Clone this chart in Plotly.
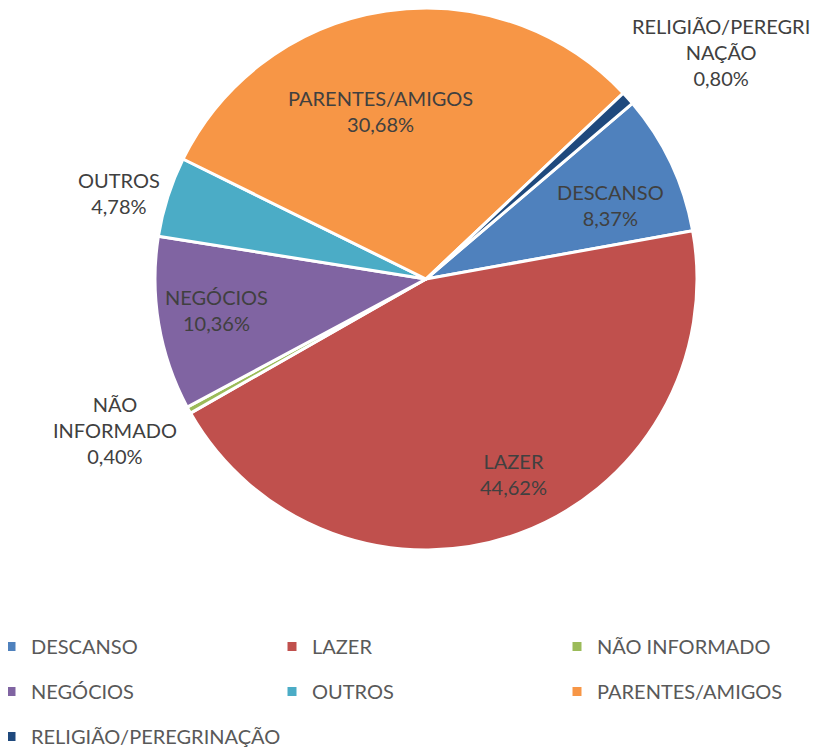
import math
import plotly.graph_objects as go

# ---- data ----
categories = ["DESCANSO", "LAZER", "NÃO INFORMADO", "NEGÓCIOS", "OUTROS",
              "PARENTES/AMIGOS", "RELIGIÃO/PEREGRINAÇÃO"]
slice_labels = ["DESCANSO", "LAZER", "NÃO<br>INFORMADO", "NEGÓCIOS", "OUTROS",
                "PARENTES/AMIGOS", "RELIGIÃO/PEREGRI<br>NAÇÃO"]
values = [8.37, 44.62, 0.40, 10.36, 4.78, 30.68, 0.80]

# ---- styles ----
colors = ["#4F81BD", "#C0504D", "#9BBB59", "#8064A2", "#4BACC6", "#F79646", "#1F497D"]
# data-label placement (Excel "best fit"): radius fraction and angular nudge (deg)
label_radius = [0.735, 0.79, 1.276, 0.783, 1.176, 0.643, 1.373]
label_nudge = [3.5, -4.3, 3.0, 1.2, -2.1, -6.8, 4.2]
legend_columns = [[0, 3, 6], [1, 4], [2, 5]]
legend_col_x = [-17, 264, 549]   # px within figure
LEGEND_TOP = 619                 # px within figure

# the page body adds an 8px margin, so the figure is 8px smaller than the window
W, H = 814, 741
CX, CY, R = 418, 271, 271
ROTATION = 49.6
FONT = "Lato, 'Open Sans', sans-serif"
FS = 20

fig = go.Figure()
fig.add_trace(go.Pie(
    labels=categories,
    values=values,
    textinfo="none",
    marker=dict(colors=colors, line=dict(color="white", width=3)),
    sort=False,
    direction="clockwise",
    rotation=ROTATION,
    domain=dict(x=[(CX - R) / W, (CX + R) / W], y=[1 - (CY + R) / H, 1 - (CY - R) / H]),
    showlegend=False,
    hovertemplate="%{label}: %{value:.2f}%<extra></extra>",
))

# data labels positioned from the slice angles
total = sum(values)
start = ROTATION
annotations = []
for i, v in enumerate(values):
    span = 360.0 * v / total
    mid = start + span / 2 + label_nudge[i]
    start += span
    a = math.radians(mid)
    px = CX + R * label_radius[i] * math.sin(a)
    py = CY - R * label_radius[i] * math.cos(a)
    annotations.append(dict(
        x=px / W, y=1 - py / H, xref="paper", yref="paper",
        xanchor="center", yanchor="middle", showarrow=False,
        text=f"{slice_labels[i]}<br>{v:.2f}%".replace(".", ","),
        font=dict(family=FONT, size=FS, color="#404040"),
    ))

# legend: three columns of entries
legend_layouts = {}
for c, idxs in enumerate(legend_columns):
    lname = "legend" if c == 0 else f"legend{c + 1}"
    for i in idxs:
        fig.add_trace(go.Scatter(
            x=[None], y=[None], mode="markers", name=categories[i],
            marker=dict(symbol="square", size=9, color=colors[i]),
            legend=lname, legendgroup=categories[i], showlegend=True,
            hoverinfo="skip",
        ))
    legend_layouts[lname] = dict(
        orientation="v", x=legend_col_x[c] / W, xanchor="left",
        y=1 - LEGEND_TOP / H, yanchor="top",
        font=dict(family=FONT, size=FS, color="#595959"),
        bgcolor="rgba(0,0,0,0)", tracegroupgap=16, itemsizing="trace",
    )

fig.update_layout(
    width=W, height=H,
    margin=dict(l=0, r=0, t=0, b=0, autoexpand=False),
    paper_bgcolor="white", plot_bgcolor="white",
    font=dict(family=FONT, size=FS, color="#595959"),
    xaxis=dict(visible=False), yaxis=dict(visible=False),
    annotations=annotations,
    **legend_layouts,
)

fig.write_html("out.html")
